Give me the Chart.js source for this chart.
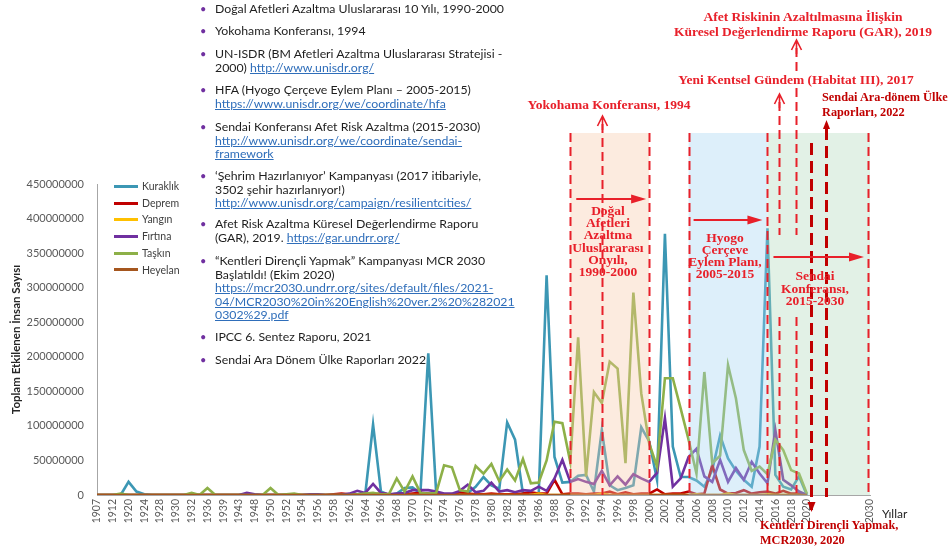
<!DOCTYPE html>
<html>
<head>
<meta charset="utf-8">
<script src="https://cdn.jsdelivr.net/npm/chart.js@4.4.1/dist/chart.umd.min.js"></script>
<style>
  html, body { margin: 0; padding: 0; background: #fff; }
  #wrap { position: relative; width: 950px; height: 552px; overflow: hidden; font-family: Lato, "Open Sans", sans-serif; }
  #wrap canvas { position: absolute; left: 0; top: 0; }
  .ov { position: absolute; white-space: nowrap; }
  .madde { position: absolute; left: 215px; font-size: 12.3px; line-height: 13.6px; color: #1e1e1e; white-space: nowrap; }
  .madde::before { content: "\2022"; position: absolute; left: -15px; color: #7030A0; font-size: 11px; }
  .madde a { color: #2F6EBA; text-decoration: underline; }
  .not { position: absolute; font-family: "Liberation Serif", "DejaVu Serif", serif; font-weight: bold; color: #E8202A; font-size: 13.5px; white-space: nowrap; text-align: center; }
  .koyu { color: #C00000; text-align: left; }
  #lejant .oge { position: absolute; left: 114px; font-size: 10.5px; color: #404040; height: 14px; line-height: 14px; }
  #lejant .cizgi { display: inline-block; width: 24px; height: 3px; vertical-align: middle; margin-right: 4px; position: relative; top: -1px; }
</style>
</head>
<body>
<div id="wrap">
  <canvas id="afet" width="950" height="552"></canvas>

  <div class="madde" style="top:2px">Doğal Afetleri Azaltma Uluslararası 10 Yılı, 1990-2000</div>
  <div class="madde" style="top:24px">Yokohama Konferansı, 1994</div>
  <div class="madde" style="top:47px">UN-ISDR (BM Afetleri Azaltma Uluslararası Stratejisi -<br>2000) <a>http://www.unisdr.org/</a></div>
  <div class="madde" style="top:83px">HFA (Hyogo Çerçeve Eylem Planı – 2005-2015)<br><a>https://www.unisdr.org/we/coordinate/hfa</a></div>
  <div class="madde" style="top:120px">Sendai Konferansı Afet Risk Azaltma (2015-2030)<br><a>http://www.unisdr.org/we/coordinate/sendai-<br>framework</a></div>
  <div class="madde" style="top:169px">‘Şehrim Hazırlanıyor’ Kampanyası (2017 itibariyle,<br>3502 şehir hazırlanıyor!)<br><a>http://www.unisdr.org/campaign/resilientcities/</a></div>
  <div class="madde" style="top:217px">Afet Risk Azaltma Küresel Değerlendirme Raporu<br>(GAR), 2019. <a>https://gar.undrr.org/</a></div>
  <div class="madde" style="top:254px">“Kentleri Dirençli Yapmak” Kampanyası MCR 2030<br>Başlatıldı! (Ekim 2020)<br><a>https://mcr2030.undrr.org/sites/default/files/2021-<br>04/MCR2030%20in%20English%20ver.2%20%282021<br>0302%29.pdf</a></div>
  <div class="madde" style="top:330px">IPCC 6. Sentez Raporu, 2021</div>
  <div class="madde" style="top:353px">Sendai Ara Dönem Ülke Raporları 2022</div>

  <div class="not" style="left:653px;width:300px;top:10px;line-height:14.5px">Afet Riskinin Azaltılmasına İlişkin<br>Küresel Değerlendirme Raporu (GAR), 2019</div>
  <div class="not" style="left:646px;width:300px;top:72px;line-height:15px">Yeni Kentsel Gündem (Habitat III), 2017</div>
  <div class="not" style="left:509px;width:200px;top:97px;line-height:15px">Yokohama Konferansı, 1994</div>
  <div class="not koyu" style="left:822px;top:90px;line-height:14.5px;font-size:12.3px">Sendai Ara-dönem Ülke<br>Raporları, 2022</div>
  <div class="not" style="left:548px;width:120px;top:205px;line-height:12.2px">Doğal<br>Afetleri<br>Azaltma<br>Uluslararası<br>Onyılı,<br>1990-2000</div>
  <div class="not" style="left:665px;width:120px;top:232px;line-height:12px">Hyogo<br>Çerçeve<br>Eylem Planı,<br>2005-2015</div>
  <div class="not" style="left:755px;width:120px;top:270px;line-height:12.5px">Sendai<br>Konferansı,<br>2015-2030</div>
  <div class="not koyu" style="left:760px;top:518px;line-height:15px;font-size:12.3px">Kentleri Dirençli Yapmak,<br>MCR2030, 2020</div>

  <div class="ov" style="left:882px;top:506px;font-size:12px;color:#262626">Yıllar</div>
  <div id="lejant"></div>
</div>

<script>
// Yıllar (kategori ekseni). 2020 sonrası boş kategoriler eksenin 2030'a kadar uzaması için
const yillar = [
  "1907", "1910", "1912", "1915", "1920", "1921", "1924", "1925", "1928", "1929",
  "1930", "1931", "1932", "1935", "1936", "1938", "1939", "1942", "1943", "1946",
  "1948", "1949", "1950", "1951", "1952", "1953", "1954", "1955", "1956", "1957",
  "1958", "1960", "1962", "1963", "1964", "1965", "1966", "1967", "1968", "1969",
  "1970", "1971", "1972", "1973", "1974", "1975", "1976", "1977", "1978", "1979",
  "1980", "1981", "1982", "1983", "1984", "1985", "1986", "1987", "1988", "1989",
  "1990", "1991", "1992", "1993", "1994", "1995", "1996", "1997", "1998", "1999",
  "2000", "2001", "2002", "2003", "2004", "2005", "2006", "2007", "2008", "2009",
  "2010", "2011", "2012", "2013", "2014", "2015", "2016", "2017", "2018", "2019",
  "2020", "2021", "2022", "", "", "", "", "", "2030"
];
// eksende yazılan yıllar: 2020'ye kadar iki kategoride bir, sonra yalnız 2030
const sonVeriYili = "2020";
const sonEtiket = "2030";

// Etkilenen insan sayısı (milyon kişi)
const kuraklik = [
  0, 0, 0, 0, 19, 5, 1, 0, 0, 0,  0, 0, 0, 0, 0, 0, 0, 0, 0, 0,
  0, 0, 0, 0, 0, 0, 0, 0, 0, 0,  0, 0, 0, 0, 0, 102, 5, 0, 2, 10,
  11, 2, 205, 3, 0, 0, 1, 3, 12, 26,  14, 9, 105, 80, 2, 0, 1, 318, 55, 18,
  19, 28, 29, 5, 94, 14, 7, 10, 14, 98,  78, 22, 378, 70, 26, 26, 21, 12, 36, 86,
  53, 35, 22, 12, 70, 386, 29, 12, 8, 27,  0
];
const deprem = [
  0, 0, 0, 0, 0, 0, 0, 0, 0, 0,  0, 0, 0, 0, 0, 0, 0, 0, 0, 0,
  0, 0, 0, 0, 0, 0, 0, 0, 0, 0,  1, 2, 1, 1, 0, 1, 2, 1, 1, 1,
  2, 3, 2, 1, 1, 1, 4, 2, 1, 1,  2, 1, 1, 1, 2, 4, 2, 2, 22, 1,
  2, 2, 1, 2, 2, 5, 1, 4, 1, 2,  2, 8, 1, 2, 2, 5, 1, 2, 43, 8,
  2, 3, 7, 2, 4, 5, 2, 6, 2, 2,  0
];
const yangin = [
  0, 0, 0, 0, 0, 0, 0, 0, 0, 0,  0, 0, 0, 0, 0, 0, 0, 0, 0, 0,
  0, 0, 0, 0, 0, 0, 0, 0, 0, 0,  0, 0, 0, 0, 0, 0, 2, 0, 0, 0,
  0, 0, 0, 0, 0, 0, 0, 0, 0, 0,  0, 0, 0, 0, 0, 0, 2, 0, 0, 0,
  0, 0, 0, 0, 2, 0, 0, 0, 0, 0,  0, 0, 0, 0, 0, 0, 1, 0, 0, 0,
  2, 0, 0, 0, 0, 1, 0, 0, 0, 0,  0
];
const firtina = [
  0, 0, 0, 0, 0, 0, 0, 0, 0, 0,  0, 0, 0, 0, 0, 0, 0, 0, 0, 3,
  1, 0, 0, 0, 0, 0, 0, 1, 1, 0,  0, 0, 2, 6, 3, 16, 3, 1, 2, 3,
  7, 7, 7, 5, 2, 2, 6, 15, 4, 6,  18, 5, 7, 4, 7, 6, 12, 6, 24, 51,
  19, 23, 19, 16, 35, 14, 27, 15, 30, 24,  19, 32, 111, 12, 24, 55, 67, 27, 19, 51,
  19, 39, 22, 48, 31, 17, 94, 22, 14, 5,  0
];
const taskin = [
  0, 0, 0, 2, 0, 0, 0, 0, 0, 0,  0, 0, 3, 0, 10, 0, 0, 0, 0, 0,
  0, 0, 10, 0, 1, 2, 0, 0, 0, 0,  0, 0, 0, 1, 2, 3, 1, 1, 24, 5,
  27, 3, 2, 3, 43, 40, 7, 5, 42, 31,  45, 20, 37, 21, 52, 17, 18, 50, 106, 104,
  48, 228, 27, 149, 133, 193, 183, 46, 293, 147,  75, 41, 169, 169, 125, 80, 31, 178, 46, 57,
  188, 140, 65, 35, 41, 30, 80, 65, 36, 31,  2
];
const heyelan = [
  0, 0, 0, 0, 0, 0, 0, 0, 0, 0,  0, 0, 0, 0, 0, 0, 0, 0, 0, 0,
  0, 0, 0, 0, 0, 0, 0, 0, 0, 0,  0, 0, 0, 0, 0, 0, 0, 0, 0, 0,
  0, 0, 0, 0, 0, 0, 0, 0, 0, 0,  0, 0, 0, 0, 0, 0, 0, 0, 0, 0,
  0, 0, 0, 0, 0, 0, 0, 0, 0, 0,  0, 0, 0, 0, 0, 0, 0, 0, 0, 0,
  0, 0, 0, 0, 0, 0, 0, 0, 0, 0,  0
];

const seriAdlari = ["Kuraklık", "Deprem", "Yangın", "Fırtına", "Taşkın", "Heyelan"];
const seriRenkleri = ["#3C97B4", "#C00000", "#FFC000", "#7030A0", "#8DB048", "#A5561E"];
const seriler = [kuraklik, deprem, yangin, firtina, taskin, heyelan];

const yEksenMax = 450000000;
const yEksenAdim = 50000000;

// Çizim üstü açıklamalar (yıllar eksen üzerinden konumlanıyor)
const bantlar = [
  { bas: "1990", son: "2000", renk: "rgba(247,200,165,0.36)" },
  { bas: "2005", son: "2015", renk: "rgba(160,210,240,0.36)" },
  { bas: "2015", son: "2030", renk: "rgba(175,215,185,0.36)" }
];
const kirmizi = "#E8202A";
const koyuKirmizi = "#C00000";
const dikeyler = [
  { yil: "1990", parca: [[133, 495]] },
  { yil: "1994", parca: [[116, 495]], uc: "acik" },
  { yil: "2000", parca: [[133, 495]] },
  { yil: "2005", parca: [[133, 495]] },
  { yil: "2015", parca: [[133, 495]] },
  { yil: "2017", parca: [[94, 235], [317, 493]], uc: "acik", kay: -4 },
  { yil: "2019", parca: [[40, 72], [88, 235], [317, 493]], uc: "acik", kay: -3 },
  { yil: "2020", parca: [[135, 510]], uc: "asagi", koyu: true, kay: 4 },
  { yil: "2022", parca: [[120, 497]], uc: "yukari", koyu: true, kay: 3 },
  { yil: "2030", parca: [[133, 495]], kay: -2 }
];
const yatayOklar = [
  { bas: "1990", son: "2000", y: 199, db: 6, ds: -3 },
  { bas: "2005", son: "2015", y: 220, db: 5, ds: -5 },
  { bas: "2015", son: "2030", y: 257, db: 6, ds: -6 }
];

const lejant = document.getElementById("lejant");
seriAdlari.forEach((ad, i) => {
  const d = document.createElement("div");
  d.className = "oge";
  d.style.top = (179 + i * 16.7) + "px";
  d.innerHTML = '<span class="cizgi" style="background:' + seriRenkleri[i] + '"></span>' + ad;
  lejant.appendChild(d);
});

const katman = {
  id: "katman",
  afterDatasetsDraw(chart) {
    const { ctx, chartArea, scales: { x } } = chart;
    const px = (yil) => x.getPixelForValue(yillar.indexOf(yil));
    ctx.save();
    bantlar.forEach((b) => {
      ctx.fillStyle = b.renk;
      ctx.fillRect(px(b.bas), 133, px(b.son) - px(b.bas), chartArea.bottom - 133);
    });
    dikeyler.forEach((d) => {
      const xp = Math.round(px(d.yil) + (d.kay || 0)) + 0.5;
      const renk = d.koyu ? koyuKirmizi : kirmizi;
      ctx.strokeStyle = renk;
      ctx.fillStyle = renk;
      ctx.lineWidth = d.koyu ? 3 : 2;
      ctx.setLineDash(d.koyu ? [12, 6] : [9, 5]);
      d.parca.forEach(([a, b], k) => {
        ctx.beginPath();
        ctx.moveTo(xp, a + (d.uc && k === 0 ? 8 : 0));
        ctx.lineTo(xp, b);
        ctx.stroke();
      });
      ctx.setLineDash([]);
      const ust = d.parca[0][0];
      const alt = d.parca[d.parca.length - 1][1];
      if (d.uc === "acik") {
        ctx.lineWidth = 1.6;
        ctx.beginPath();
        ctx.moveTo(xp - 5, ust + 10);
        ctx.lineTo(xp, ust);
        ctx.lineTo(xp + 5, ust + 10);
        ctx.moveTo(xp, ust);
        ctx.lineTo(xp, ust + 14);
        ctx.stroke();
      } else if (d.uc === "yukari") {
        ctx.beginPath();
        ctx.moveTo(xp, ust);
        ctx.lineTo(xp - 3.5, ust + 9);
        ctx.lineTo(xp + 3.5, ust + 9);
        ctx.closePath();
        ctx.fill();
      } else if (d.uc === "asagi") {
        ctx.beginPath();
        ctx.moveTo(xp, alt + 2);
        ctx.lineTo(xp - 4, alt - 8);
        ctx.lineTo(xp + 4, alt - 8);
        ctx.closePath();
        ctx.fill();
      }
    });
    ctx.strokeStyle = kirmizi;
    ctx.fillStyle = kirmizi;
    ctx.lineWidth = 2;
    yatayOklar.forEach((o) => {
      const x1 = px(o.bas) + o.db;
      const x2 = px(o.son) + o.ds;
      ctx.beginPath();
      ctx.moveTo(x1, o.y);
      ctx.lineTo(x2 - 12, o.y);
      ctx.stroke();
      ctx.beginPath();
      ctx.moveTo(x2, o.y);
      ctx.lineTo(x2 - 15, o.y - 4.5);
      ctx.lineTo(x2 - 15, o.y + 4.5);
      ctx.closePath();
      ctx.fill();
    });
    ctx.restore();
  }
};

Chart.defaults.font.family = 'Lato, "Open Sans", sans-serif';

const sonVeriIndeks = yillar.indexOf(sonVeriYili);

new Chart(document.getElementById("afet"), {
  type: "line",
  data: {
    labels: yillar,
    datasets: seriAdlari.map((ad, i) => ({
      label: ad,
      data: seriler[i].map((v) => v * 1000000),
      borderColor: seriRenkleri[i],
      backgroundColor: seriRenkleri[i],
      borderWidth: 2.6,
      pointRadius: 0,
      tension: 0,
      order: seriAdlari.length - i
    }))
  },
  options: {
    responsive: false,
    animation: false,
    layout: { padding: { top: 184, right: 80, left: 0, bottom: 0 } },
    plugins: {
      legend: { display: false },
      tooltip: { enabled: false }
    },
    scales: {
      x: {
        grid: { display: false, drawTicks: false },
        border: { color: "#A6A6A6" },
        ticks: {
          autoSkip: false,
          minRotation: 90,
          maxRotation: 90,
          padding: 4,
          color: "#595959",
          font: { size: 10.5 },
          callback: (v, i) => {
            if (yillar[i] === sonEtiket) return sonEtiket;
            return i % 2 === 0 && i <= sonVeriIndeks ? yillar[i] : "";
          }
        },
        afterFit: (s) => { s.height = 57; }
      },
      y: {
        min: 0,
        max: yEksenMax,
        grid: { display: false, drawTicks: false },
        border: { color: "#A6A6A6" },
        ticks: {
          stepSize: yEksenAdim,
          padding: 13,
          color: "#595959",
          font: { size: 11 },
          callback: (v) => String(v)
        },
        title: {
          display: true,
          text: "Toplam Etkilenen İnsan Sayısı",
          color: "#262626",
          font: { size: 11.5, weight: "bold" },
          padding: { top: 9, bottom: 0 }
        },
        afterFit: (s) => { s.width = 97; }
      }
    }
  },
  plugins: [katman]
});
</script>
</body>
</html>
